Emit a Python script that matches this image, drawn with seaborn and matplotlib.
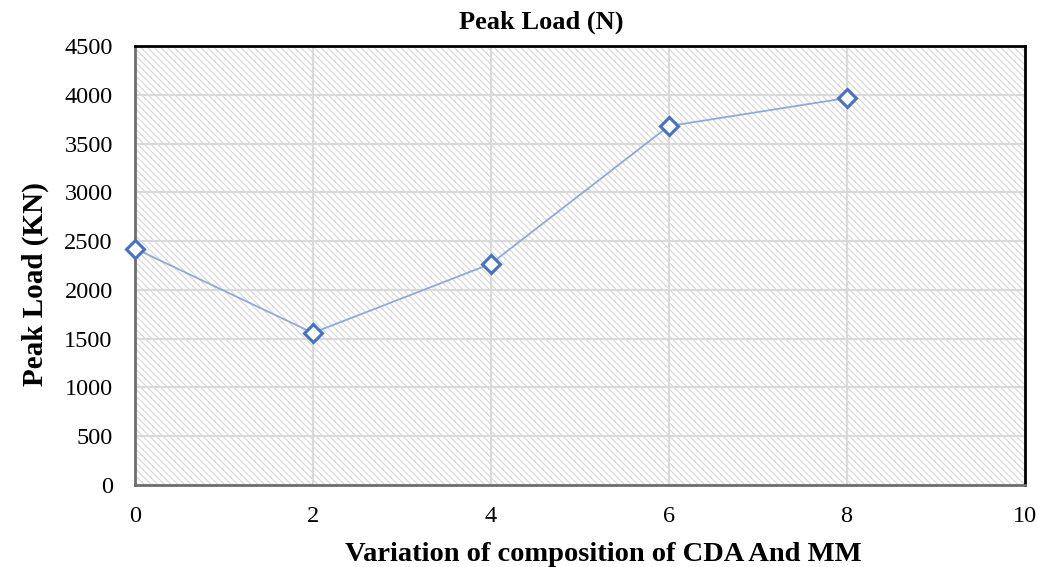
import matplotlib
matplotlib.use("Agg")
import matplotlib.pyplot as plt
import seaborn as sns
import pandas as pd
from matplotlib.patches import Rectangle

composition = [0, 2, 4, 6, 8]
peak_load = [2425, 1560, 2268, 3680, 3968]
x_ticks = [0, 2, 4, 6, 8, 10]
y_ticks = [0, 500, 1000, 1500, 2000, 2500, 3000, 3500, 4000, 4500]

sns.set_theme(style="white")
plt.rcParams['font.family'] = ['Liberation Serif', 'DejaVu Serif']
plt.rcParams['text.color'] = 'black'
plt.rcParams['axes.labelcolor'] = 'black'
plt.rcParams['hatch.linewidth'] = 0.8
plt.rcParams['hatch.color'] = '#d6d6d6'

df = pd.DataFrame({"x": composition, "y": peak_load})

fig = plt.figure(figsize=(10.38, 5.67), dpi=100)
ax = fig.add_axes([0.130, 0.1446, 0.857, 0.774])

ax.add_patch(Rectangle((0, 0), 1, 1, transform=ax.transAxes, facecolor='white',
                       edgecolor='#d6d6d6', hatch='\\\\\\\\\\', lw=0, zorder=0))

ax.set_xlim(0, 10)
ax.set_ylim(0, 4500)
ax.set_xticks(x_ticks)
ax.set_yticks(y_ticks)
ax.grid(True, color='#d9d9d9', lw=1.5, zorder=1)
ax.set_axisbelow(True)

sns.lineplot(data=df, x="x", y="y", ax=ax, color='#8eaadb', lw=1.3,
             marker='D', markersize=9, markerfacecolor='white',
             markeredgecolor='#4472c4', markeredgewidth=2.2, zorder=5, clip_on=False)

for side in ['top', 'right']:
    ax.spines[side].set_color('black')
    ax.spines[side].set_linewidth(2)
for side in ['left', 'bottom']:
    ax.spines[side].set_color('#6e6e6e')
    ax.spines[side].set_linewidth(2)

ax.tick_params(axis='both', labelsize=17.5, length=0, colors='black')
ax.tick_params(axis='x', pad=15)
ax.tick_params(axis='y', pad=16)
ax.set_xlabel("Variation of composition of CDA And MM", fontsize=20.5,
              fontweight='bold', labelpad=11, color='black', x=0.526)
ax.set_ylabel("Peak Load (KN)", fontsize=21, fontweight='bold', labelpad=11,
              color='black', y=0.458)
ax.set_title("Peak Load (N)", fontsize=19, fontweight='bold', pad=13,
             color='black', x=0.457)

fig.savefig("out.png", dpi=100)
